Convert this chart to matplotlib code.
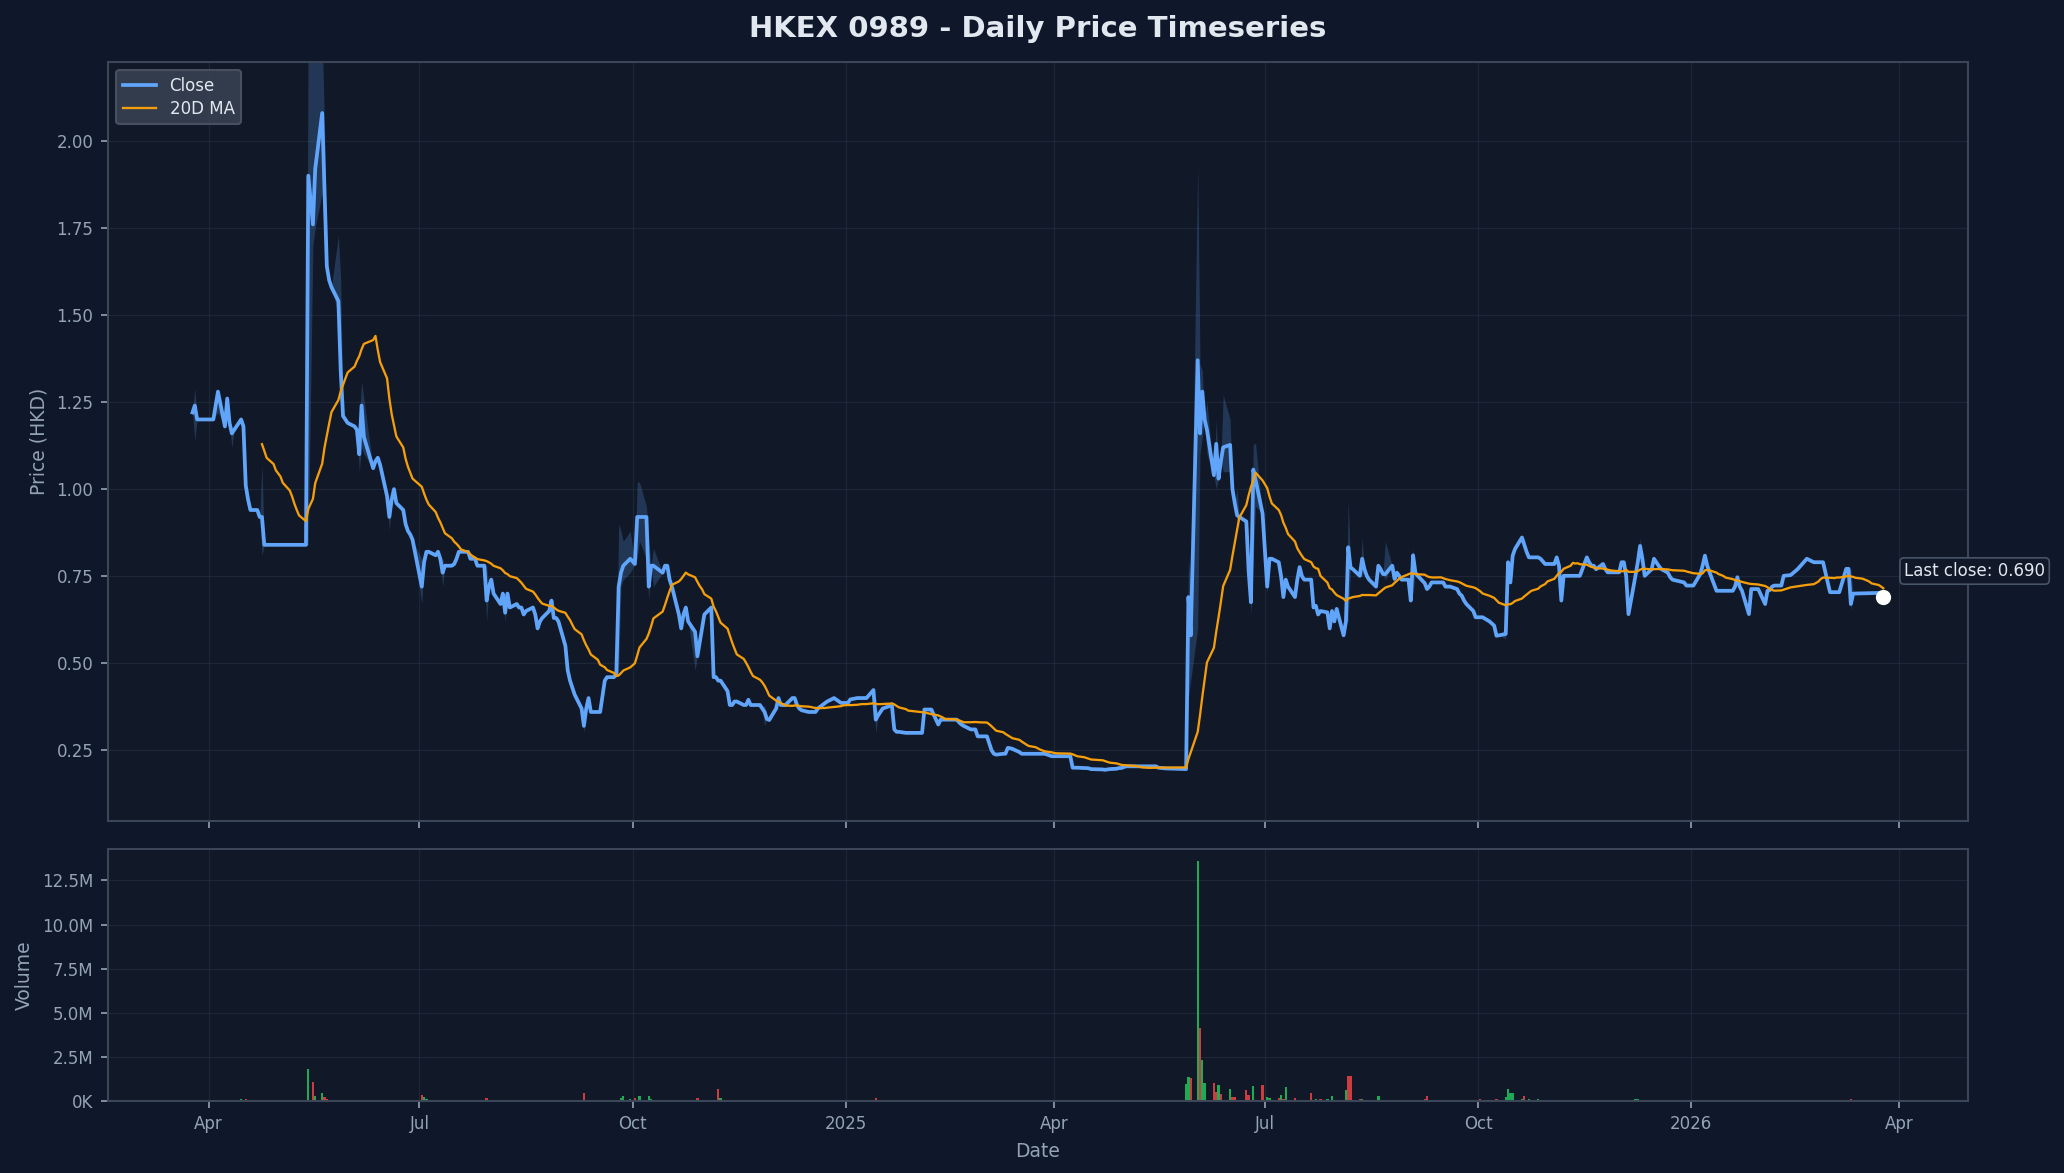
import pandas as pd
import matplotlib
matplotlib.use("Agg")
import matplotlib.pyplot as plt
import matplotlib.dates as mdates
from matplotlib.ticker import FuncFormatter, MultipleLocator

# Cierres diarios (HKD)
close_2024 = [
    ("2024-03-25", 1.22), ("2024-03-26", 1.24), ("2024-03-27", 1.20), ("2024-03-28", 1.20), ("2024-04-02", 1.20),
    ("2024-04-03", 1.20),
    ("2024-04-05", 1.28), ("2024-04-08", 1.18), ("2024-04-09", 1.26), ("2024-04-10", 1.19), ("2024-04-11", 1.16),
    ("2024-04-12", 1.17), ("2024-04-15", 1.20), ("2024-04-16", 1.18), ("2024-04-17", 1.01), ("2024-04-18", 0.97),
    ("2024-04-19", 0.94), ("2024-04-22", 0.94), ("2024-04-23", 0.92), ("2024-04-24", 0.92), ("2024-04-25", 0.84),
    ("2024-05-13", 0.84), ("2024-05-14", 1.90), ("2024-05-16", 1.76), ("2024-05-17", 1.92), ("2024-05-20", 2.08),
    ("2024-05-21", 1.86), ("2024-05-22", 1.64), ("2024-05-23", 1.60), ("2024-05-24", 1.58), ("2024-05-27", 1.54),
    ("2024-05-28", 1.34), ("2024-05-29", 1.21), ("2024-05-30", 1.20), ("2024-05-31", 1.19), ("2024-06-03", 1.18),
    ("2024-06-04", 1.17), ("2024-06-05", 1.10), ("2024-06-06", 1.24), ("2024-06-07", 1.15), ("2024-06-11", 1.06),
    ("2024-06-12", 1.08), ("2024-06-13", 1.09), ("2024-06-14", 1.07), ("2024-06-17", 0.98), ("2024-06-18", 0.92),
    ("2024-06-19", 0.97), ("2024-06-20", 1.00), ("2024-06-21", 0.96), ("2024-06-24", 0.94), ("2024-06-25", 0.90),
    ("2024-06-26", 0.88), ("2024-06-27", 0.87), ("2024-06-28", 0.855), ("2024-07-02", 0.72), ("2024-07-03", 0.79),
    ("2024-07-04", 0.82), ("2024-07-05", 0.82), ("2024-07-08", 0.81), ("2024-07-09", 0.82), ("2024-07-10", 0.80),
    ("2024-07-11", 0.76), ("2024-07-12", 0.78), ("2024-07-15", 0.78), ("2024-07-16", 0.785), ("2024-07-17", 0.80),
    ("2024-07-18", 0.82), ("2024-07-19", 0.82), ("2024-07-22", 0.82), ("2024-07-23", 0.80), ("2024-07-24", 0.80),
    ("2024-07-25", 0.80), ("2024-07-26", 0.78), ("2024-07-29", 0.78), ("2024-07-30", 0.68), ("2024-07-31", 0.72),
    ("2024-08-01", 0.74), ("2024-08-02", 0.70), ("2024-08-05", 0.67), ("2024-08-06", 0.70), ("2024-08-07", 0.645),
    ("2024-08-08", 0.70), ("2024-08-09", 0.66), ("2024-08-12", 0.67), ("2024-08-13", 0.66), ("2024-08-14", 0.66),
    ("2024-08-15", 0.64), ("2024-08-16", 0.65), ("2024-08-19", 0.66), ("2024-08-20", 0.64), ("2024-08-21", 0.60),
    ("2024-08-22", 0.62), ("2024-08-23", 0.63), ("2024-08-26", 0.65), ("2024-08-27", 0.68), ("2024-08-28", 0.63),
    ("2024-08-29", 0.63), ("2024-08-30", 0.62), ("2024-09-02", 0.55), ("2024-09-03", 0.48), ("2024-09-04", 0.45),
    ("2024-09-05", 0.43), ("2024-09-06", 0.41), ("2024-09-09", 0.37), ("2024-09-10", 0.32), ("2024-09-11", 0.37),
    ("2024-09-12", 0.40), ("2024-09-13", 0.36), ("2024-09-16", 0.36), ("2024-09-17", 0.36), ("2024-09-19", 0.45),
    ("2024-09-20", 0.46), ("2024-09-23", 0.46), ("2024-09-24", 0.47), ("2024-09-25", 0.72), ("2024-09-26", 0.76),
    ("2024-09-27", 0.78), ("2024-09-30", 0.80), ("2024-10-02", 0.785), ("2024-10-03", 0.92), ("2024-10-04", 0.92),
    ("2024-10-07", 0.92), ("2024-10-08", 0.72), ("2024-10-09", 0.78), ("2024-10-10", 0.78), ("2024-10-14", 0.76),
    ("2024-10-15", 0.78), ("2024-10-16", 0.78), ("2024-10-17", 0.74), ("2024-10-18", 0.72), ("2024-10-21", 0.64),
    ("2024-10-22", 0.60), ("2024-10-23", 0.64), ("2024-10-24", 0.66), ("2024-10-25", 0.62), ("2024-10-28", 0.59),
    ("2024-10-29", 0.52), ("2024-10-30", 0.56), ("2024-10-31", 0.60), ("2024-11-01", 0.64), ("2024-11-04", 0.66),
    ("2024-11-05", 0.46), ("2024-11-06", 0.46), ("2024-11-07", 0.45), ("2024-11-08", 0.45), ("2024-11-11", 0.42),
    ("2024-11-12", 0.38), ("2024-11-13", 0.38), ("2024-11-14", 0.39), ("2024-11-15", 0.39), ("2024-11-18", 0.38),
    ("2024-11-19", 0.38), ("2024-11-20", 0.395), ("2024-11-21", 0.38), ("2024-11-22", 0.38), ("2024-11-25", 0.38),
    ("2024-11-26", 0.37), ("2024-11-27", 0.36), ("2024-11-28", 0.34), ("2024-11-29", 0.337), ("2024-12-02", 0.37),
    ("2024-12-03", 0.40), ("2024-12-04", 0.38), ("2024-12-05", 0.38), ("2024-12-06", 0.38), ("2024-12-09", 0.40),
    ("2024-12-10", 0.40), ("2024-12-11", 0.38), ("2024-12-12", 0.37), ("2024-12-13", 0.365), ("2024-12-16", 0.36),
    ("2024-12-17", 0.36), ("2024-12-18", 0.36), ("2024-12-19", 0.36), ("2024-12-20", 0.37), ("2024-12-23", 0.385),
    ("2024-12-24", 0.39), ("2024-12-27", 0.40), ("2024-12-30", 0.386), ("2024-12-31", 0.386),
]

close_2025 = [
    ("2025-01-02", 0.386), ("2025-01-03", 0.396), ("2025-01-06", 0.40), ("2025-01-07", 0.40), ("2025-01-08", 0.40),
    ("2025-01-09", 0.40), ("2025-01-10", 0.40), ("2025-01-13", 0.423), ("2025-01-14", 0.338), ("2025-01-15", 0.35),
    ("2025-01-16", 0.36), ("2025-01-17", 0.37), ("2025-01-20", 0.377), ("2025-01-21", 0.377), ("2025-01-22", 0.31),
    ("2025-01-23", 0.303), ("2025-01-24", 0.303), ("2025-01-27", 0.30), ("2025-01-28", 0.30), ("2025-02-03", 0.30),
    ("2025-02-04", 0.367), ("2025-02-05", 0.367), ("2025-02-06", 0.367), ("2025-02-07", 0.367), ("2025-02-10", 0.324),
    ("2025-02-11", 0.338), ("2025-02-12", 0.338), ("2025-02-13", 0.338), ("2025-02-14", 0.338), ("2025-02-17", 0.338),
    ("2025-02-18", 0.338), ("2025-02-19", 0.33), ("2025-02-20", 0.324), ("2025-02-21", 0.32), ("2025-02-24", 0.31),
    ("2025-02-25", 0.31), ("2025-02-26", 0.31), ("2025-02-27", 0.29), ("2025-02-28", 0.29), ("2025-03-03", 0.29),
    ("2025-03-04", 0.27), ("2025-03-05", 0.25), ("2025-03-06", 0.24), ("2025-03-07", 0.2375), ("2025-03-10", 0.24),
    ("2025-03-11", 0.24), ("2025-03-12", 0.257), ("2025-03-13", 0.256), ("2025-03-14", 0.254), ("2025-03-17", 0.245),
    ("2025-03-18", 0.24), ("2025-03-28", 0.24), ("2025-03-31", 0.233), ("2025-04-08", 0.233), ("2025-04-09", 0.20),
    ("2025-04-10", 0.20), ("2025-04-11", 0.20), ("2025-04-14", 0.199), ("2025-04-15", 0.199), ("2025-04-16", 0.198),
    ("2025-04-17", 0.196), ("2025-04-22", 0.195), ("2025-04-23", 0.194), ("2025-04-24", 0.195), ("2025-04-25", 0.196),
    ("2025-04-28", 0.197), ("2025-04-29", 0.199), ("2025-04-30", 0.199), ("2025-05-02", 0.204), ("2025-05-15", 0.204),
    ("2025-05-16", 0.20), ("2025-05-19", 0.198), ("2025-05-28", 0.196), ("2025-05-29", 0.69), ("2025-05-30", 0.58),
    ("2025-06-02", 1.37), ("2025-06-03", 1.16), ("2025-06-04", 1.28), ("2025-06-05", 1.20), ("2025-06-06", 1.17),
    ("2025-06-09", 1.04), ("2025-06-10", 1.13), ("2025-06-11", 1.03), ("2025-06-12", 1.08), ("2025-06-13", 1.12),
    ("2025-06-16", 1.127), ("2025-06-17", 1.00), ("2025-06-18", 0.96), ("2025-06-19", 0.925), ("2025-06-20", 0.92),
    ("2025-06-23", 0.907), ("2025-06-24", 0.764), ("2025-06-25", 0.675), ("2025-06-26", 1.056), ("2025-06-27", 1.026),
    ("2025-06-30", 0.93), ("2025-07-02", 0.72), ("2025-07-03", 0.80), ("2025-07-04", 0.80), ("2025-07-07", 0.79),
    ("2025-07-08", 0.75), ("2025-07-09", 0.69), ("2025-07-10", 0.74), ("2025-07-11", 0.72), ("2025-07-14", 0.69),
    ("2025-07-15", 0.74), ("2025-07-16", 0.776), ("2025-07-17", 0.75), ("2025-07-18", 0.74), ("2025-07-21", 0.74),
    ("2025-07-22", 0.66), ("2025-07-23", 0.665), ("2025-07-24", 0.64), ("2025-07-25", 0.65), ("2025-07-28", 0.646),
    ("2025-07-29", 0.60), ("2025-07-30", 0.65), ("2025-07-31", 0.62), ("2025-08-01", 0.656), ("2025-08-04", 0.58),
    ("2025-08-05", 0.62), ("2025-08-06", 0.833), ("2025-08-07", 0.775), ("2025-08-08", 0.77), ("2025-08-11", 0.751),
    ("2025-08-12", 0.80), ("2025-08-13", 0.77), ("2025-08-14", 0.751), ("2025-08-15", 0.74), ("2025-08-18", 0.72),
    ("2025-08-19", 0.78), ("2025-08-20", 0.77), ("2025-08-21", 0.756), ("2025-08-22", 0.756), ("2025-08-25", 0.78),
    ("2025-08-26", 0.742), ("2025-08-27", 0.76), ("2025-08-28", 0.751), ("2025-08-29", 0.74), ("2025-09-01", 0.74),
    ("2025-09-02", 0.68), ("2025-09-03", 0.81), ("2025-09-04", 0.76), ("2025-09-05", 0.751), ("2025-09-08", 0.73),
    ("2025-09-09", 0.713), ("2025-09-10", 0.72), ("2025-09-11", 0.732), ("2025-09-12", 0.732), ("2025-09-15", 0.732),
    ("2025-09-16", 0.732), ("2025-09-17", 0.72), ("2025-09-18", 0.72), ("2025-09-19", 0.72), ("2025-09-22", 0.713),
    ("2025-09-23", 0.70), ("2025-09-24", 0.694), ("2025-09-25", 0.68), ("2025-09-26", 0.67), ("2025-09-29", 0.65),
    ("2025-09-30", 0.632), ("2025-10-02", 0.632), ("2025-10-03", 0.632), ("2025-10-06", 0.62), ("2025-10-08", 0.608),
    ("2025-10-09", 0.579), ("2025-10-10", 0.58), ("2025-10-13", 0.584), ("2025-10-14", 0.79), ("2025-10-15", 0.732),
    ("2025-10-16", 0.809), ("2025-10-17", 0.828), ("2025-10-20", 0.861), ("2025-10-21", 0.84), ("2025-10-22", 0.82),
    ("2025-10-23", 0.804), ("2025-10-24", 0.804), ("2025-10-27", 0.804), ("2025-10-28", 0.80), ("2025-10-30", 0.785),
    ("2025-10-31", 0.785), ("2025-11-03", 0.785), ("2025-11-04", 0.804), ("2025-11-05", 0.78), ("2025-11-06", 0.68),
    ("2025-11-07", 0.751), ("2025-11-14", 0.751), ("2025-11-17", 0.804), ("2025-11-18", 0.79), ("2025-11-19", 0.78),
    ("2025-11-20", 0.78), ("2025-11-21", 0.77), ("2025-11-24", 0.785), ("2025-11-25", 0.77), ("2025-11-26", 0.761),
    ("2025-12-01", 0.761), ("2025-12-02", 0.79), ("2025-12-03", 0.79), ("2025-12-04", 0.75), ("2025-12-05", 0.641),
    ("2025-12-08", 0.751), ("2025-12-09", 0.79), ("2025-12-10", 0.837), ("2025-12-11", 0.80), ("2025-12-12", 0.751),
    ("2025-12-15", 0.77), ("2025-12-16", 0.80), ("2025-12-17", 0.79), ("2025-12-18", 0.78), ("2025-12-19", 0.771),
    ("2025-12-22", 0.76), ("2025-12-23", 0.747), ("2025-12-24", 0.74), ("2025-12-29", 0.732), ("2025-12-30", 0.723),
    ("2025-12-31", 0.723),
]

close_2026 = [
    ("2026-01-02", 0.723), ("2026-01-05", 0.756), ("2026-01-06", 0.78), ("2026-01-07", 0.809), ("2026-01-08", 0.78),
    ("2026-01-09", 0.761), ("2026-01-12", 0.708), ("2026-01-19", 0.708), ("2026-01-20", 0.72), ("2026-01-21", 0.747),
    ("2026-01-22", 0.72), ("2026-01-23", 0.708), ("2026-01-26", 0.641), ("2026-01-27", 0.713), ("2026-01-30", 0.713),
    ("2026-02-02", 0.67), ("2026-02-03", 0.708), ("2026-02-04", 0.71), ("2026-02-05", 0.72), ("2026-02-06", 0.723),
    ("2026-02-09", 0.723), ("2026-02-10", 0.751), ("2026-02-13", 0.753), ("2026-02-16", 0.77), ("2026-02-20", 0.80),
    ("2026-02-23", 0.79), ("2026-02-27", 0.79), ("2026-03-02", 0.704), ("2026-03-06", 0.704), ("2026-03-09", 0.771),
    ("2026-03-10", 0.771), ("2026-03-11", 0.67), ("2026-03-12", 0.70), ("2026-03-23", 0.702), ("2026-03-24", 0.702),
    ("2026-03-25", 0.690),
]

# Dias con rango alto/bajo visible: (fecha, bajo, alto)
band_days = [
    ("2024-03-26", 1.14, 1.29), ("2024-04-05", 1.22, 1.29), ("2024-04-11", 1.12, 1.18), ("2024-04-24", 0.81, 1.07),
    ("2024-05-14", 0.84, 2.45), ("2024-05-16", 1.70, 2.40), ("2024-05-17", 1.75, 2.35), ("2024-05-20", 1.85, 2.30),
    ("2024-05-21", 1.70, 2.05), ("2024-05-27", 1.50, 1.73), ("2024-05-28", 1.30, 1.60), ("2024-06-05", 1.05, 1.20),
    ("2024-06-06", 1.12, 1.31), ("2024-06-07", 1.10, 1.26), ("2024-06-18", 0.88, 0.95), ("2024-07-02", 0.67, 0.80),
    ("2024-07-11", 0.72, 0.80), ("2024-07-30", 0.62, 0.78), ("2024-08-07", 0.62, 0.70), ("2024-09-10", 0.30, 0.37),
    ("2024-09-25", 0.47, 0.90), ("2024-09-26", 0.72, 0.88), ("2024-09-27", 0.74, 0.85), ("2024-09-30", 0.76, 0.88),
    ("2024-10-03", 0.80, 1.02), ("2024-10-04", 0.85, 1.02), ("2024-10-07", 0.80, 0.95), ("2024-10-08", 0.68, 0.86),
    ("2024-10-10", 0.72, 0.83), ("2024-10-28", 0.48, 0.60), ("2024-11-27", 0.32, 0.38), ("2025-01-14", 0.30, 0.40),
    ("2025-05-29", 0.40, 0.80), ("2025-05-30", 0.45, 0.72), ("2025-06-02", 0.60, 1.93), ("2025-06-03", 1.10, 1.36),
    ("2025-06-04", 1.15, 1.34), ("2025-06-06", 1.10, 1.25), ("2025-06-10", 1.00, 1.20), ("2025-06-13", 1.05, 1.27),
    ("2025-06-16", 1.05, 1.20), ("2025-06-19", 0.90, 1.00), ("2025-06-25", 0.64, 0.78), ("2025-06-26", 0.80, 1.13),
    ("2025-06-27", 0.95, 1.13), ("2025-07-02", 0.70, 0.80), ("2025-08-06", 0.62, 0.97), ("2025-08-12", 0.75, 0.86),
    ("2025-08-22", 0.74, 0.85), ("2025-09-03", 0.70, 0.83), ("2025-10-13", 0.57, 0.60), ("2025-12-10", 0.79, 0.86),
    ("2026-03-11", 0.65, 0.77),
]

# Volumen en millones de acciones, dias de subida y de bajada
vol_up = [
    ("2024-04-15", 0.08), ("2024-05-14", 1.79), ("2024-05-17", 0.28), ("2024-05-20", 0.42), ("2024-07-03", 0.19),
    ("2024-07-04", 0.07), ("2024-09-26", 0.17), ("2024-09-27", 0.25), ("2024-09-30", 0.09), ("2024-10-04", 0.26),
    ("2024-10-08", 0.26), ("2024-10-09", 0.08), ("2024-11-01", 0.05), ("2024-11-05", 0.06), ("2024-11-08", 0.13),
    ("2024-11-14", 0.05), ("2024-11-19", 0.05), ("2025-01-06", 0.05), ("2025-01-13", 0.05), ("2025-04-24", 0.05),
    ("2025-05-28", 0.94), ("2025-05-29", 1.32), ("2025-06-02", 13.6), ("2025-06-04", 2.30), ("2025-06-05", 0.98),
    ("2025-06-11", 0.89), ("2025-06-16", 0.64), ("2025-06-26", 0.83), ("2025-07-02", 0.23), ("2025-07-03", 0.15),
    ("2025-07-08", 0.32), ("2025-07-10", 0.79), ("2025-07-15", 0.05), ("2025-07-23", 0.10), ("2025-07-28", 0.10),
    ("2025-07-30", 0.26), ("2025-08-05", 0.60), ("2025-08-12", 0.10), ("2025-08-19", 0.26), ("2025-08-25", 0.05),
    ("2025-09-01", 0.05), ("2025-09-10", 0.05), ("2025-10-13", 0.20), ("2025-10-14", 0.66), ("2025-10-15", 0.42),
    ("2025-10-16", 0.42), ("2025-10-20", 0.08), ("2025-10-23", 0.08), ("2025-10-27", 0.10), ("2025-11-13", 0.05),
    ("2025-12-08", 0.12), ("2025-12-09", 0.08), ("2025-12-15", 0.06), ("2026-01-19", 0.06),
]
vol_down = [
    ("2024-04-17", 0.08), ("2024-05-16", 1.08), ("2024-05-21", 0.23), ("2024-05-22", 0.09), ("2024-07-02", 0.32),
    ("2024-07-30", 0.15), ("2024-09-10", 0.42), ("2024-10-02", 0.17), ("2024-10-29", 0.15), ("2024-11-07", 0.66),
    ("2024-11-12", 0.05), ("2025-01-14", 0.13), ("2025-03-05", 0.05), ("2025-04-22", 0.05), ("2025-05-30", 1.27),
    ("2025-06-03", 4.10), ("2025-06-09", 0.98), ("2025-06-10", 0.50), ("2025-06-12", 0.38), ("2025-06-17", 0.23),
    ("2025-06-18", 0.23), ("2025-06-23", 0.60), ("2025-06-24", 0.32), ("2025-06-30", 0.89), ("2025-07-07", 0.15),
    ("2025-07-09", 0.10), ("2025-07-14", 0.15), ("2025-07-16", 0.05), ("2025-07-21", 0.42), ("2025-07-25", 0.10),
    ("2025-08-06", 1.40), ("2025-08-07", 1.40), ("2025-08-11", 0.10), ("2025-08-13", 0.05), ("2025-09-08", 0.10),
    ("2025-09-09", 0.26), ("2025-10-02", 0.08), ("2025-10-09", 0.08), ("2025-10-21", 0.26), ("2025-12-29", 0.06),
    ("2026-01-12", 0.06), ("2026-03-02", 0.06), ("2026-03-11", 0.12),
]

# Feriados de la bolsa de Hong Kong (para la media de 20 sesiones)
hk_holidays = [
    "2024-03-29", "2024-04-01", "2024-04-04", "2024-05-01", "2024-05-15", "2024-06-10", "2024-07-01",
    "2024-09-18", "2024-10-01", "2024-10-11", "2024-12-25", "2024-12-26", "2025-01-01", "2025-01-29",
    "2025-01-30", "2025-01-31", "2025-04-04", "2025-04-18", "2025-04-21", "2025-05-01", "2025-05-05",
    "2025-07-01", "2025-10-01", "2025-10-07", "2025-10-29", "2025-12-25", "2025-12-26", "2026-01-01",
    "2026-02-17", "2026-02-18", "2026-02-19",
]

df = pd.DataFrame(close_2024 + close_2025 + close_2026, columns=["date", "close"])
df["date"] = pd.to_datetime(df["date"])
df = df.set_index("date")
df["low"] = df["close"]
df["high"] = df["close"]
for d, lo, hi in band_days:
    df.loc[pd.Timestamp(d), ["low", "high"]] = [lo, hi]

# media movil de 20 sesiones sobre el calendario de negociacion
sesiones = pd.bdate_range(df.index[0], df.index[-1], freq="C", holidays=hk_holidays)
diario = df["close"].reindex(sesiones.union(df.index)).ffill().reindex(sesiones)
ma20 = diario.rolling(20).mean()

up = pd.DataFrame(vol_up, columns=["date", "vol"])
down = pd.DataFrame(vol_down, columns=["date", "vol"])

bg = "#0f172a"
panel = "#111827"
txt = "#94a3b8"
edge = "#3b4658"

fig = plt.figure(figsize=(13.76, 7.82), dpi=150, facecolor=bg)
gs = fig.add_gridspec(2, 1, height_ratios=[3.02, 1], hspace=0.055,
                      left=0.0523, right=0.9534, top=0.9473, bottom=0.0617)
ax = fig.add_subplot(gs[0])
axv = fig.add_subplot(gs[1], sharex=ax)

ax.fill_between(df.index, df["low"], df["high"], color="#60a5fa", alpha=0.22, linewidth=0)
ax.plot(df.index, df["close"], color="#60a5fa", lw=1.8, label="Close", zorder=3)
ax.plot(ma20.index, ma20.values, color="#f59e0b", lw=1.1, label="20D MA", zorder=4)

last_d = df.index[-1]
last_c = df["close"].iloc[-1]
ax.scatter([last_d], [last_c], s=40, color="white", zorder=6)
ax.annotate(f"Last close: {last_c:.3f}", xy=(last_d, last_c), xytext=(10, 12.5),
            textcoords="offset points", va="center", ha="left", fontsize=8, color="#e2e8f0",
            bbox=dict(boxstyle="round,pad=0.25", fc=panel, ec="#475569", lw=0.8))

ax.set_ylim(0.046, 2.227)
ax.yaxis.set_major_locator(MultipleLocator(0.25))
ax.yaxis.set_major_formatter(FuncFormatter(lambda v, p: f"{v:.2f}"))
ax.set_ylabel("Price (HKD)", color=txt, fontsize=9)
ax.set_title("HKEX 0989 - Daily Price Timeseries", color="#e2e8f0", fontsize=14,
             fontweight="bold", pad=12)
leg = ax.legend(loc="upper left", fontsize=8, facecolor="#374151", edgecolor="#4b5563",
                framealpha=0.9, labelcolor="#e2e8f0", labelspacing=0.3)

axv.bar(pd.to_datetime(up["date"]), up["vol"] * 1e6, width=1.0, color="#22c55e", alpha=0.85)
axv.bar(pd.to_datetime(down["date"]), down["vol"] * 1e6, width=1.0, color="#ef4444", alpha=0.85)
axv.set_ylabel("Volume", color=txt, fontsize=9)
axv.set_xlabel("Date", color=txt, fontsize=9)
axv.yaxis.set_major_locator(MultipleLocator(2.5e6))


def fmt_vol(v, pos):
    if v >= 1e6:
        return f"{v / 1e6:.1f}M"
    return f"{v / 1e3:.0f}K"


axv.yaxis.set_major_formatter(FuncFormatter(fmt_vol))


def fmt_fecha(x, pos):
    d = mdates.num2date(x)
    return d.strftime("%Y") if d.month == 1 else d.strftime("%b")


axv.xaxis.set_major_locator(mdates.MonthLocator(bymonth=[1, 4, 7, 10]))
axv.xaxis.set_major_formatter(FuncFormatter(fmt_fecha))
ax.tick_params(labelbottom=False)

for a in (ax, axv):
    a.set_facecolor(panel)
    a.grid(True, color="#334155", alpha=0.35, lw=0.6)
    a.set_axisbelow(True)
    a.tick_params(colors=txt, labelsize=8)
    for s in a.spines.values():
        s.set_color(edge)
        s.set_linewidth(1.0)

fig.savefig("out.png", dpi=150, facecolor=bg)
